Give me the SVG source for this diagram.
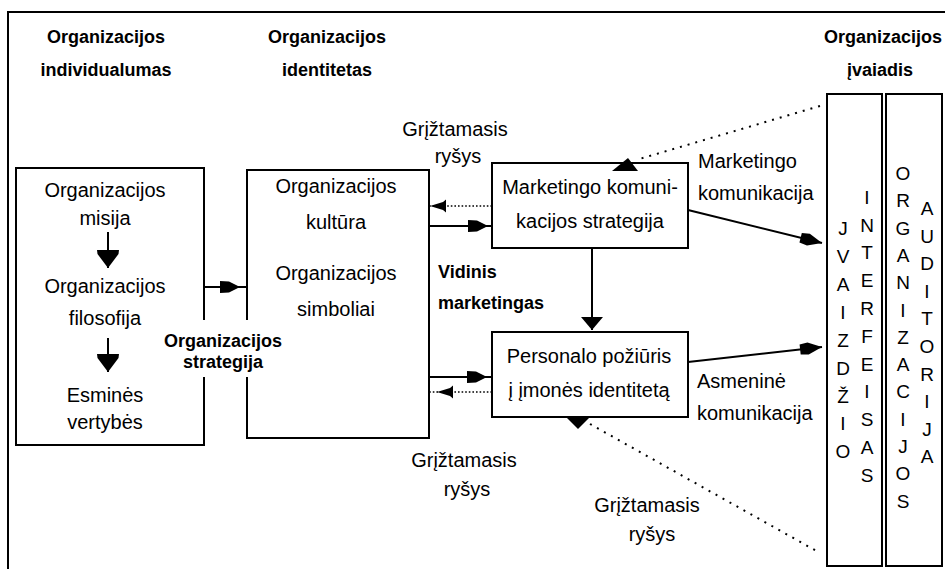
<svg xmlns="http://www.w3.org/2000/svg" width="945" height="569" viewBox="0 0 945 569">
<style>
text{font-family:"Liberation Sans",Arial,sans-serif;fill:#000}
.t{font-size:20px;text-anchor:middle}
.tl{font-size:20px}
.b{font-size:18px;font-weight:bold;text-anchor:middle}
.bl{font-size:18px;font-weight:bold}
.v{font-size:19px;text-anchor:middle}
.box{fill:#fff;stroke:#000;stroke-width:2}
.ln{fill:none;stroke:#000;stroke-width:2}
.dt{fill:none;stroke:#000;stroke-width:1.6;stroke-dasharray:1.6 2}
.dd{fill:none;stroke:#000;stroke-width:2;stroke-dasharray:2 6}
</style>
<defs>
<marker id="m1" markerUnits="userSpaceOnUse" markerWidth="22" markerHeight="16" refX="20" refY="7" orient="auto" overflow="visible"><path d="M0,1 L9,1.5 L20,7 L9,12.5 L0,13 Z" fill="#000"/></marker>
<marker id="m2" markerUnits="userSpaceOnUse" markerWidth="20" markerHeight="24" refX="18" refY="11" orient="auto" overflow="visible"><path d="M0,0 L4,0.5 L18,11 L4,21.5 L0,22 Z" fill="#000"/></marker>
<marker id="m3" markerUnits="userSpaceOnUse" markerWidth="15" markerHeight="24" refX="13" refY="11" orient="auto" overflow="visible"><path d="M0,0 L13,11 L0,22 Z" fill="#000"/></marker>
<marker id="m4" markerUnits="userSpaceOnUse" markerWidth="18" markerHeight="16" refX="16" refY="7" orient="auto" overflow="visible"><path d="M0,0.5 L3,3 L16,7 L3,11 L0,13.5 Z" fill="#000"/></marker>
<marker id="m5" markerUnits="userSpaceOnUse" markerWidth="24" markerHeight="16" refX="22" refY="6" orient="auto" overflow="visible"><path d="M0,1 L8,0 L22,6 L8,12 L0,11 Z" fill="#000"/></marker>
</defs>
<rect x="0" y="0" width="945" height="569" fill="#fff"/>
<rect x="8" y="12" width="960" height="600" fill="none" stroke="#000" stroke-width="2"/>

<g id="headers">
<text class="b" x="106" y="43">Organizacijos</text>
<text class="b" x="106" y="76">individualumas</text>
<text class="b" x="327" y="43">Organizacijos</text>
<text class="b" x="327" y="76">identitetas</text>
<text class="b" x="883" y="43">Organizacijos</text>
<text class="b" x="880" y="76">įvaiadis</text>
</g>

<g id="box1">
<rect class="box" x="16" y="168" width="188" height="277"/>
<text class="t" x="105" y="197">Organizacijos</text>
<text class="t" x="105" y="225">misija</text>
<text class="t" x="105" y="293">Organizacijos</text>
<text class="t" x="105" y="325">filosofija</text>
<text class="t" x="105" y="402">Esminės</text>
<text class="t" x="105" y="429">vertybės</text>
</g>

<g id="box2">
<rect class="box" x="247" y="170" width="182" height="268"/>
<text class="t" x="336" y="193">Organizacijos</text>
<text class="t" x="336" y="229">kultūra</text>
<text class="t" x="336" y="280">Organizacijos</text>
<text class="t" x="336" y="316">simboliai</text>
</g>

<g id="strategy-label">
<rect x="160" y="320" width="128" height="57" fill="#fff"/>
<text class="b" x="223" y="347">Organizacijos</text>
<text class="b" x="223" y="368">strategija</text>
</g>

<g id="box3">
<rect class="box" x="492" y="163" width="196" height="85"/>
<text class="t" x="590" y="194">Marketingo komuni-</text>
<text class="t" x="590" y="228">kacijos strategija</text>
</g>

<g id="box4">
<rect class="box" x="492" y="332" width="196" height="85"/>
<text class="t" x="589" y="363">Personalo požiūris</text>
<text class="t" x="589" y="397">į įmonės identitetą</text>
</g>

<g id="labels">
<text class="t" x="455" y="136">Grįžtamasis</text>
<text class="t" x="458" y="163">ryšys</text>
<text class="bl" x="438" y="278">Vidinis</text>
<text class="bl" x="438" y="309">marketingas</text>
<text class="t" x="464" y="467">Grįžtamasis</text>
<text class="t" x="467" y="496">ryšys</text>
<text class="t" x="647" y="512">Grįžtamasis</text>
<text class="t" x="652" y="541">ryšys</text>
<text class="tl" x="698" y="168">Marketingo</text>
<text class="tl" x="698" y="200">komunikacija</text>
<text class="tl" x="697" y="388">Asmeninė</text>
<text class="tl" x="697" y="420">komunikacija</text>
</g>

<g id="box5">
<rect class="box" x="827" y="94" width="55" height="472"/>
<text class="v" x="843" y="235">J</text>
<text class="v" x="843" y="263">V</text>
<text class="v" x="843" y="291">A</text>
<text class="v" x="843" y="319">I</text>
<text class="v" x="843" y="347">Z</text>
<text class="v" x="843" y="375">D</text>
<text class="v" x="843" y="403">Ž</text>
<text class="v" x="843" y="430">I</text>
<text class="v" x="843" y="458">O</text>
<text class="v" x="867" y="204">I</text>
<text class="v" x="867" y="232">N</text>
<text class="v" x="867" y="259">T</text>
<text class="v" x="867" y="287">E</text>
<text class="v" x="867" y="315">R</text>
<text class="v" x="867" y="343">F</text>
<text class="v" x="867" y="371">E</text>
<text class="v" x="867" y="398">I</text>
<text class="v" x="867" y="426">S</text>
<text class="v" x="867" y="454">A</text>
<text class="v" x="867" y="482">S</text>
</g>

<g id="box6">
<rect class="box" x="886" y="94" width="56" height="472"/>
<text class="v" x="903" y="180">O</text>
<text class="v" x="903" y="207">R</text>
<text class="v" x="903" y="235">G</text>
<text class="v" x="903" y="262">A</text>
<text class="v" x="903" y="289">N</text>
<text class="v" x="903" y="317">I</text>
<text class="v" x="903" y="344">Z</text>
<text class="v" x="903" y="371">A</text>
<text class="v" x="903" y="398">C</text>
<text class="v" x="903" y="426">I</text>
<text class="v" x="903" y="453">J</text>
<text class="v" x="903" y="480">O</text>
<text class="v" x="903" y="508">S</text>
<text class="v" x="927" y="215">A</text>
<text class="v" x="927" y="243">U</text>
<text class="v" x="927" y="270">D</text>
<text class="v" x="927" y="298">I</text>
<text class="v" x="927" y="325">T</text>
<text class="v" x="927" y="353">O</text>
<text class="v" x="927" y="381">R</text>
<text class="v" x="927" y="408">I</text>
<text class="v" x="927" y="436">J</text>
<text class="v" x="927" y="463">A</text>
</g>

<g id="connectors">
<path class="ln" d="M108,232 L108,268" marker-end="url(#m2)"/>
<path class="ln" d="M108,338 L108,372" marker-end="url(#m2)"/>
<path class="ln" d="M204,287 L240,287 L247,287" marker-mid="url(#m1)"/>
<path class="dt" d="M492,206 L430,206" marker-end="url(#m4)"/>
<path class="ln" d="M429,226 L488,226 L492,226" marker-mid="url(#m1)"/>
<path class="ln" d="M429,377 L487,377 L492,377" marker-mid="url(#m1)"/>
<path class="dt" d="M492,392 L437,392 L429,392" marker-mid="url(#m4)"/>
<path class="ln" d="M592,248 L592,330" marker-end="url(#m3)"/>
<path class="ln" d="M688,210 L822,243" marker-end="url(#m5)"/>
<path class="ln" d="M688,362 L822,347" marker-end="url(#m5)"/>
<path class="dd" d="M820,106 L636,160"/>
<polygon points="612,171 638,171 628,158" fill="#000"/>
<path class="dd" d="M590,424 L820,553"/>
<polygon points="567,418 589,418 578,429" fill="#000"/>
</g>
</svg>
